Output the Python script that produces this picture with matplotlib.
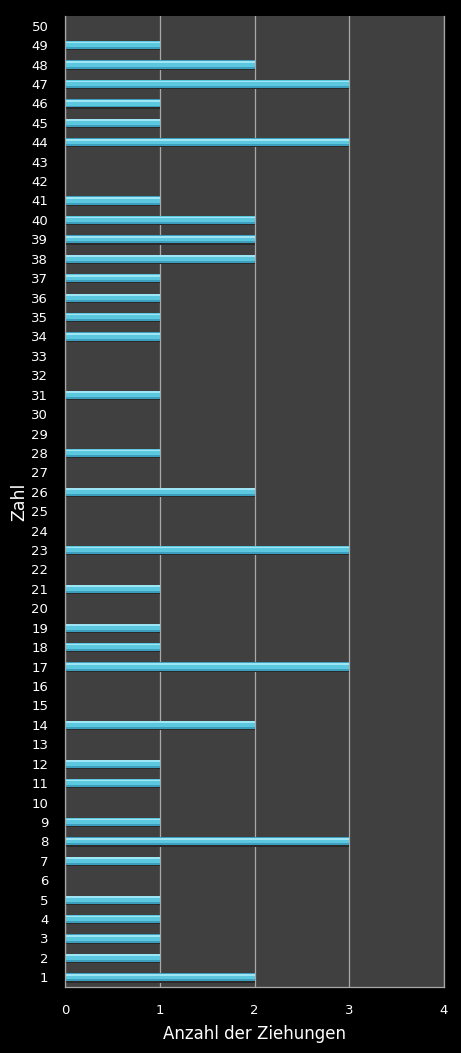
import matplotlib
matplotlib.use("Agg")
import matplotlib.pyplot as plt
import numpy as np

zahlen = list(range(1, 51))
anzahl = [2, 1, 1, 1, 1, 0, 1, 3, 1, 0,
          1, 1, 0, 2, 0, 0, 3, 1, 1, 0,
          1, 0, 3, 0, 0, 2, 0, 1, 0, 0,
          1, 0, 0, 1, 1, 1, 1, 2, 2, 2,
          1, 0, 0, 3, 1, 1, 3, 2, 1, 0]
x_ticks = [0, 1, 2, 3, 4]

fig = plt.figure(figsize=(4.61, 10.53), dpi=100, facecolor="black")
ax = fig.add_axes([65/461, 66/1053, (444-65)/461, (987-16)/1053])
ax.set_facecolor("#404040")

ax.set_xlim(0, 4)
ax.set_ylim(0.5, 50.5)
ax.set_xticks(x_ticks)
ax.set_yticks(zahlen)
ax.set_yticklabels([str(z) for z in zahlen])
ax.xaxis.grid(True, color="#a8a8a8", linewidth=0.9)
ax.set_axisbelow(True)

y = np.array(zahlen)
vals = np.array(anzahl)
# shadow, base bar, highlight
ax.barh(y - 0.06, vals, height=0.42, color="#2a2a2a", edgecolor="none", zorder=2)
ax.barh(y, vals, height=0.42, color="#3c9fbd", edgecolor="none", zorder=3)
ax.barh(y + 0.04, vals, height=0.30, color="#5cc8e0", edgecolor="none", zorder=4)
ax.barh(y + 0.13, vals, height=0.09, color="#9ee6f5", edgecolor="none", zorder=5)

for s in ["left", "bottom", "right"]:
    ax.spines[s].set_color("#a8a8a8")
    ax.spines[s].set_linewidth(0.9)
    ax.spines[s].set_zorder(6)
ax.spines["top"].set_visible(False)

ax.tick_params(axis="both", colors="white", length=0, labelsize=9.5)
ax.tick_params(axis="y", pad=12)
ax.tick_params(axis="x", pad=12)
ax.set_xlabel("Anzahl der Ziehungen", color="white", fontsize=12, labelpad=6)
ax.set_ylabel("Zahl", color="white", fontsize=12.5, labelpad=2)

fig.savefig("out.png", dpi=100, facecolor="black")
